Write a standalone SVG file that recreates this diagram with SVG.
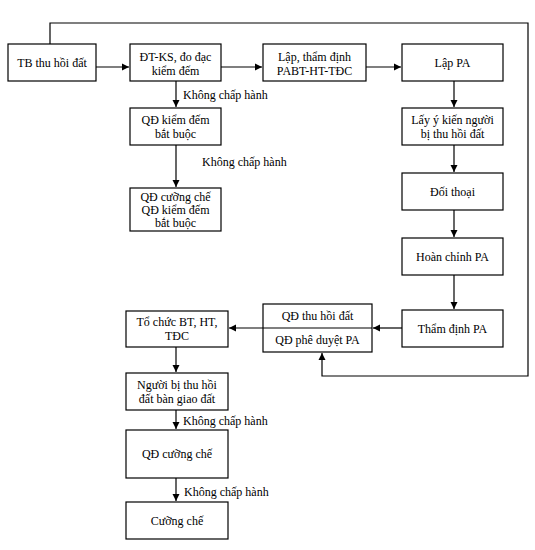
<svg xmlns="http://www.w3.org/2000/svg" width="535" height="550" viewBox="0 0 535 550" font-family="Liberation Serif, serif" font-size="12">
<style>
.box{fill:#fff;stroke:#000;stroke-width:1.2}
.c{fill:none;stroke:#000;stroke-width:1.2}
</style>
<defs>
<marker id="ah" markerUnits="userSpaceOnUse" markerWidth="8" markerHeight="8" refX="7" refY="4" orient="auto">
<path d="M0,0.5 L7,4 L0,7.5 z" fill="#000"/>
</marker>
</defs>
<rect width="535" height="550" fill="#fff"/>
<g id="connectors">
<path class="c" d="M96,67 H129" marker-end="url(#ah)"/>
<path class="c" d="M221,67 H262" marker-end="url(#ah)"/>
<path class="c" d="M366,67 H401" marker-end="url(#ah)"/>
<path class="c" d="M176,81 V107" marker-end="url(#ah)"/>
<path class="c" d="M176,145 V187" marker-end="url(#ah)"/>
<path class="c" d="M454,81 V107" marker-end="url(#ah)"/>
<path class="c" d="M454,145 V172" marker-end="url(#ah)"/>
<path class="c" d="M454,210 V237" marker-end="url(#ah)"/>
<path class="c" d="M454,275 V309" marker-end="url(#ah)"/>
<path class="c" d="M402,328 H373" marker-end="url(#ah)"/>
<path class="c" d="M263,328 H229" marker-end="url(#ah)"/>
<path class="c" d="M176,347 V372" marker-end="url(#ah)"/>
<path class="c" d="M176,410 V429" marker-end="url(#ah)"/>
<path class="c" d="M176,478 V501" marker-end="url(#ah)"/>
<path class="c" d="M50,44 V23 H528 V376 H322 V353" marker-end="url(#ah)"/>
<g font-family="Liberation Serif, serif" font-size="12" fill="#000">
<text x="183" y="99">Không chấp hành</text>
<text x="202" y="166">Không chấp hành</text>
<text x="183" y="425">Không chấp hành</text>
<text x="184" y="496">Không chấp hành</text>
</g>
</g>
<g font-family="Liberation Serif, serif" font-size="12" fill="#000" text-anchor="middle">
<g id="tb"><rect class="box" x="8" y="44" width="88" height="37"/><text x="52" y="67">TB thu hồi đất</text></g>
<g id="dtks"><rect class="box" x="130" y="44" width="91" height="37"/><text x="175.5" y="61">ĐT-KS, đo đạc</text><text x="175.5" y="75">kiểm đếm</text></g>
<g id="lap-td"><rect class="box" x="263" y="44" width="103" height="37"/><text x="314.5" y="61">Lập, thẩm định</text><text x="314.5" y="75">PABT-HT-TĐC</text></g>
<g id="lap-pa"><rect class="box" x="402" y="44" width="101" height="37"/><text x="452.5" y="67">Lập PA</text></g>
<g id="qd-kd"><rect class="box" x="130" y="108" width="91" height="37"/><text x="175.5" y="124">QĐ kiểm đếm</text><text x="175.5" y="138">bắt buộc</text></g>
<g id="qd-cc-kd"><rect class="box" x="130" y="188" width="91" height="43"/><text x="175.5" y="201">QĐ cưỡng chế</text><text x="175.5" y="214">QĐ kiểm đếm</text><text x="175.5" y="227">bắt buộc</text></g>
<g id="lay-y-kien"><rect class="box" x="402" y="108" width="101" height="37"/><text x="452.5" y="124">Lấy ý kiến người</text><text x="452.5" y="138">bị thu hồi  đất</text></g>
<g id="doi-thoai"><rect class="box" x="402" y="173" width="101" height="37"/><text x="452.5" y="196">Đối thoại</text></g>
<g id="hoan-chinh"><rect class="box" x="402" y="238" width="101" height="37"/><text x="452.5" y="261">Hoàn chỉnh PA</text></g>
<g id="tham-dinh"><rect class="box" x="402" y="310" width="101" height="37"/><text x="452.5" y="333">Thẩm định PA</text></g>
<g id="qd-thu-hoi"><rect class="box" x="263" y="304" width="109" height="48"/><line class="c" x1="263" y1="328" x2="372" y2="328"/><text x="317.5" y="320">QĐ thu hồi đất</text><text x="317.5" y="344">QĐ phê duyệt PA</text></g>
<g id="to-chuc"><rect class="box" x="126" y="311" width="102" height="36"/><text x="177" y="326">Tổ chức BT, HT,</text><text x="177" y="340">TĐC</text></g>
<g id="ban-giao"><rect class="box" x="126" y="373" width="102" height="37"/><text x="177" y="389">Người bị thu hồi</text><text x="177" y="403">đất bàn giao đất</text></g>
<g id="qd-cc"><rect class="box" x="126" y="430" width="102" height="48"/><text x="177" y="458">QĐ cưỡng chế</text></g>
<g id="cuong-che"><rect class="box" x="126" y="502" width="102" height="37"/><text x="177" y="525">Cưỡng chế</text></g>
</g>
</svg>
